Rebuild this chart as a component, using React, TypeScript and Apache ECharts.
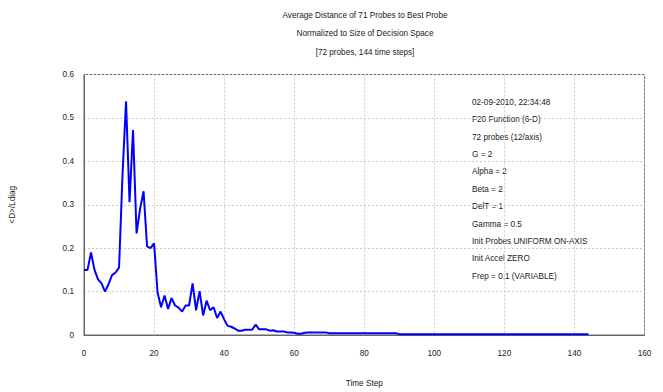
import React, { useEffect, useRef } from "react";
import * as echarts from "echarts";

const titleLines = [
  "Average Distance of 71 Probes to Best Probe",
  "Normalized to Size of Decision Space",
  "[72 probes, 144 time steps]",
];

const infoLines = [
  "02-09-2010, 22:34:48",
  "F20 Function (6-D)",
  "72 probes (12/axis)",
  "G = 2",
  "Alpha = 2",
  "Beta = 2",
  "DelT = 1",
  "Gamma = 0.5",
  "Init Probes UNIFORM ON-AXIS",
  "Init Accel ZERO",
  "Frep = 0.1 (VARIABLE)",
];

// values for time steps 0..144
const earlyValues = [
  0.15, 0.15, 0.19, 0.15, 0.128, 0.119, 0.1, 0.117, 0.138, 0.144,
  0.155, 0.37, 0.538, 0.306, 0.472, 0.234, 0.29, 0.331, 0.204, 0.2,
  0.211, 0.098, 0.064, 0.091, 0.06, 0.085, 0.068, 0.063, 0.054, 0.068,
  0.068, 0.119, 0.057, 0.101, 0.045, 0.079, 0.057, 0.064, 0.039, 0.054,
  0.036, 0.021, 0.019, 0.015, 0.01, 0.01, 0.012, 0.012, 0.012, 0.024,
  0.013, 0.013, 0.013, 0.01, 0.011, 0.008, 0.008, 0.008, 0.006, 0.006,
  0.005, 0.003, 0.003, 0.005, 0.006, 0.006, 0.006, 0.006, 0.006, 0.006,
];
const midValues = [
  0.004, 0.004, 0.004, 0.004, 0.004, 0.004, 0.004, 0.004, 0.004, 0.004,
  0.004, 0.004, 0.004, 0.004, 0.004, 0.004, 0.004, 0.004, 0.004, 0.004,
];
const lateValues = [
  0.002, 0.002, 0.002, 0.002, 0.002, 0.002, 0.002, 0.002, 0.002, 0.002,
  0.002, 0.002, 0.002, 0.002, 0.002, 0.002, 0.002, 0.002, 0.002, 0.002,
  0.002, 0.002, 0.002, 0.002, 0.002, 0.002, 0.002, 0.002, 0.002, 0.002,
  0.002, 0.002, 0.002, 0.002, 0.002, 0.002, 0.002, 0.002, 0.002, 0.002,
  0.002, 0.002, 0.002, 0.002, 0.002, 0.002, 0.002, 0.002, 0.002, 0.002,
  0.002, 0.002, 0.002, 0.002, 0.002,
];
const values = [...earlyValues, ...midValues, ...lateValues];

const FONT = "'Liberation Sans', Arial, sans-serif";
const FS = 8.2;
const TXT = "#222";

export default function App() {
  const ref = useRef<HTMLDivElement>(null);
  useEffect(() => {
    document.body.style.margin = "0";
    if (!ref.current) return;
    const chart = echarts.init(ref.current, null, { renderer: "svg" });
    const data = values.map((v, i) => [i, v]);
    chart.setOption({
      animation: false,
      backgroundColor: "#ffffff",
      textStyle: { fontFamily: FONT },
      title: {
        text: titleLines.join("\n"),
        left: 360,
        top: 1.5,
        textAlign: "center",
        textStyle: {
          fontFamily: FONT,
          fontSize: FS,
          fontWeight: "normal",
          color: TXT,
          lineHeight: 18.3,
        },
      },
      grid: { left: 77.5, right: 18.5, top: 74.5, bottom: 52, show: true, borderColor: "#666", borderWidth: 1 },
      xAxis: {
        type: "value",
        min: 0,
        max: 160,
        interval: 20,
        name: "Time Step",
        nameLocation: "middle",
        nameGap: 44,
        nameTextStyle: { fontFamily: FONT, fontSize: FS, color: TXT },
        axisLine: { show: true, lineStyle: { color: "#666" } },
        axisTick: { show: false },
        axisLabel: { fontFamily: FONT, fontSize: FS, color: TXT, margin: 14 },
        splitLine: { show: true, lineStyle: { color: "#ccc", type: [2, 2] } },
      },
      yAxis: {
        type: "value",
        min: 0,
        max: 0.6,
        interval: 0.1,
        name: "<D>/Ldiag",
        nameLocation: "middle",
        nameRotate: 90,
        nameGap: 68,
        nameTextStyle: { fontFamily: FONT, fontSize: FS, color: TXT },
        axisLine: { show: true, lineStyle: { color: "#666" } },
        axisTick: { show: false },
        axisLabel: { fontFamily: FONT, fontSize: FS, color: TXT, margin: 10 },
        splitLine: { show: true, lineStyle: { color: "#ccc", type: [2, 2] } },
      },
      graphic: infoLines.map((t, i) => ({
        type: "text",
        left: 472,
        top: 98.3 + i * 17.4,
        style: { text: t, fontFamily: FONT, fontSize: FS, fill: TXT },
      })),
      series: [
        {
          type: "line",
          data,
          showSymbol: false,
          symbol: "none",
          lineStyle: { color: "#0000ff", width: 2 },
        },
      ],
    });
    return () => chart.dispose();
  }, []);
  return <div ref={ref} style={{ width: 663, height: 392 }} />;
}
